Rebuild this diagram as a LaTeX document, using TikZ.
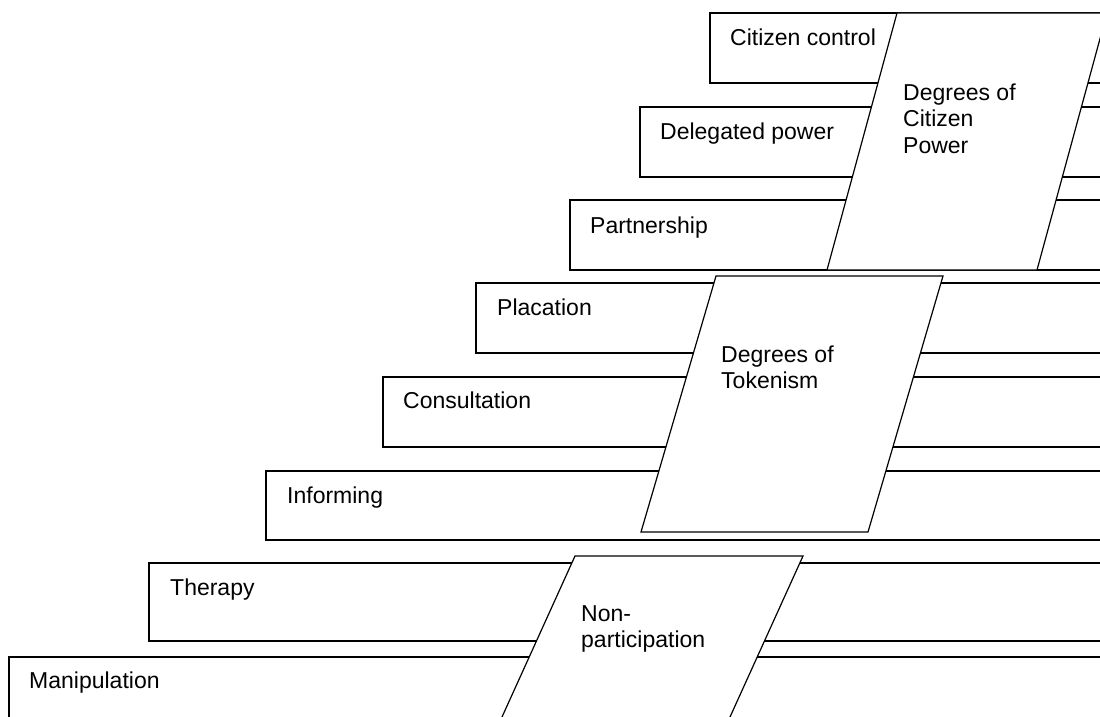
\documentclass[tikz,border=0pt]{standalone}
\usepackage{fontspec}
\setmainfont{Liberation Sans}
\begin{document}
\begin{tikzpicture}[x=1pt,y=-1pt,
  rung/.style={draw=black, line width=1.2pt, fill=white},
  band/.style={draw=black, line width=1.2pt, fill=white, line join=miter},
  rungtext/.style={anchor=base west, inner sep=0pt, font=\fontsize{23}{26.5}\selectfont},
  bandtext/.style={anchor=north west, inner sep=0pt, align=left, font=\fontsize{23}{26.5}\selectfont}]
  \useasboundingbox (0,0) rectangle (1100,717);
  \clip (0,0) rectangle (1100,717);
  \fill[white] (0,0) rectangle (1100,717);

  % rungs of the ladder, top to bottom; each runs off the right edge
  \draw[rung] (710,13)  rectangle (1120,83);
  \draw[rung] (640,107) rectangle (1120,177);
  \draw[rung] (570,200) rectangle (1120,270);
  \draw[rung] (476,283) rectangle (1120,353);
  \draw[rung] (383,377) rectangle (1120,447);
  \draw[rung] (266,471) rectangle (1120,540);
  \draw[rung] (149,563) rectangle (1120,641);
  \draw[rung] (9,657)   rectangle (1120,740);

  \node[rungtext] (control)      at (730,46)  {Citizen control};
  \node[rungtext] (delegated)    at (660,139) {Delegated power};
  \node[rungtext] (partnership)  at (590,233) {Partnership};
  \node[rungtext] (placation)    at (497,315) {Placation};
  \node[rungtext] (consultation) at (403,408) {Consultation};
  \node[rungtext] (informing)    at (287,503) {Informing};
  \node[rungtext] (therapy)      at (170,595) {Therapy};
  \node[rungtext] (manipulation) at (29,688)  {Manipulation};

  % slanted bands grouping the rungs
  \draw[band] (897,13) -- (1107,13) -- (1037,270) -- (827,270) -- cycle;
  \draw[band] (716,276) -- (943,276) -- (868,532) -- (641,532) -- cycle;
  \draw[band] (575,556) -- (803,556) -- (710.5,760) -- (482.5,760) -- cycle;

  \node[bandtext] (power)   at (903,83.2)  {Degrees of\\Citizen\\Power};
  \node[bandtext] (tokens)  at (721,345.2) {Degrees of\\Tokenism};
  \node[bandtext] (nonpart) at (581,605.2) {Non-\\participation};
\end{tikzpicture}
\end{document}
